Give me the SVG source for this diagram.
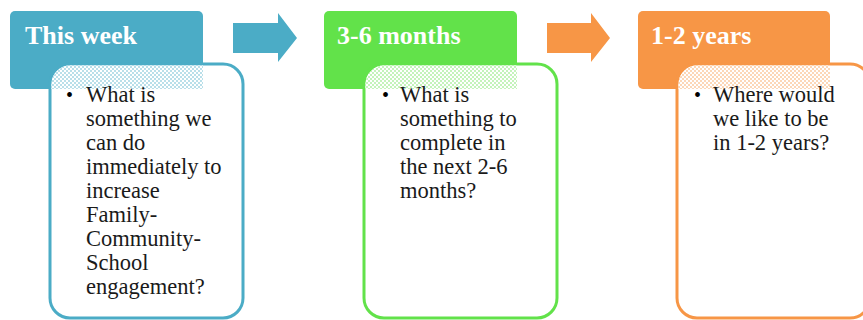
<svg xmlns="http://www.w3.org/2000/svg" width="863" height="320" viewBox="0 0 863 320">
<defs>
<pattern id="pb" width="4" height="4" patternUnits="userSpaceOnUse"><rect width="4" height="4" fill="#fff"/><rect width="2" height="2" fill="#b9dfe9"/><rect x="2" y="2" width="2" height="2" fill="#b9dfe9"/></pattern>
<pattern id="pg" width="4" height="4" patternUnits="userSpaceOnUse"><rect width="4" height="4" fill="#fff"/><rect width="2" height="2" fill="#c4f3bb"/><rect x="2" y="2" width="2" height="2" fill="#c4f3bb"/></pattern>
<pattern id="po" width="4" height="4" patternUnits="userSpaceOnUse"><rect width="4" height="4" fill="#fff"/><rect width="2" height="2" fill="#fcd7b7"/><rect x="2" y="2" width="2" height="2" fill="#fcd7b7"/></pattern>
<style>
.title{font-family:"Liberation Serif",serif;font-weight:bold;font-size:26px;fill:#fff}
.body{font-family:"Liberation Serif",serif;font-size:22.5px;fill:#1a1a1a}
.blt{font-family:"Liberation Serif",serif;font-size:20px;fill:#000}
</style>
</defs>
<g id="connectors">
<polygon points="233,23 278,23 278,13 297,38 278,62 278,53 233,53" fill="#4bacc6"/>
<polygon points="547,23 591,23 591,13 610,38 591,62 591,53 547,53" fill="#f79646"/>
</g>
<g id="node-this-week">
<rect x="10" y="11" width="193" height="78" rx="5" fill="#4bacc6"/>
<text class="title" x="25" y="44">This week</text>
<rect x="50" y="64" width="193" height="254" rx="20" fill="#fff" stroke="#4bacc6" stroke-width="3"/>
<path d="M51.5,89 V84 A18.5,18.5 0 0 1 70,65.5 H203 V89 Z" fill="url(#pb)"/>
<text class="blt" x="66" y="102">•</text>
<text class="body" x="86">
<tspan x="86" y="102">What is</tspan>
<tspan x="86" y="126">something we</tspan>
<tspan x="86" y="150">can do</tspan>
<tspan x="86" y="174">immediately to</tspan>
<tspan x="86" y="198">increase</tspan>
<tspan x="86" y="222">Family-</tspan>
<tspan x="86" y="246">Community-</tspan>
<tspan x="86" y="270">School</tspan>
<tspan x="86" y="294">engagement?</tspan>
</text>
</g>
<g id="node-3-6-months">
<rect x="324" y="11" width="193" height="78" rx="5" fill="#62e24a"/>
<text class="title" x="337" y="44">3-6 months</text>
<rect x="364" y="64" width="193" height="254" rx="20" fill="#fff" stroke="#62e24a" stroke-width="3"/>
<path d="M365.5,89 V84 A18.5,18.5 0 0 1 384,65.5 H517 V89 Z" fill="url(#pg)"/>
<text class="blt" x="382" y="102">•</text>
<text class="body">
<tspan x="400" y="102">What is</tspan>
<tspan x="400" y="126">something to</tspan>
<tspan x="400" y="150">complete in</tspan>
<tspan x="400" y="174">the next 2-6</tspan>
<tspan x="400" y="198">months?</tspan>
</text>
</g>
<g id="node-1-2-years">
<rect x="638" y="11" width="192" height="78" rx="5" fill="#f79646"/>
<text class="title" x="651" y="44">1-2 years</text>
<rect x="677" y="64" width="193" height="254" rx="20" fill="#fff" stroke="#f79646" stroke-width="3"/>
<path d="M678.5,89 V84 A18.5,18.5 0 0 1 697,65.5 H830 V89 Z" fill="url(#po)"/>
<text class="blt" x="694" y="102">•</text>
<text class="body">
<tspan x="713" y="102">Where would</tspan>
<tspan x="713" y="126">we like to be</tspan>
<tspan x="713" y="150">in 1-2 years?</tspan>
</text>
</g>
</svg>
